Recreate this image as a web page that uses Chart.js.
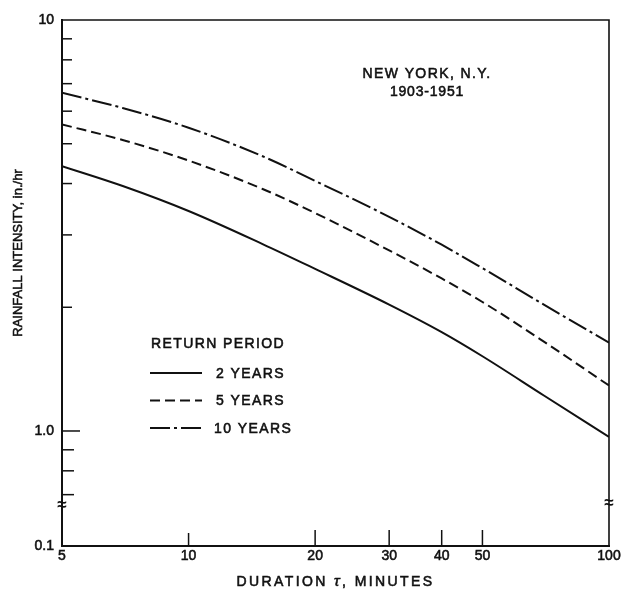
<!DOCTYPE html>
<html>
<head>
<meta charset="utf-8">
<script src="https://cdn.jsdelivr.net/npm/chart.js@4.4.1/dist/chart.umd.min.js"></script>
<style>
  html, body { margin: 0; padding: 0; background: #fff; overflow: hidden; }
  #wrap { width: 623px; height: 591px; position: relative; }
  canvas { display: block; }
</style>
</head>
<body>
<div id="wrap"><canvas id="idfChart"></canvas></div>
<script>
// duration (minutes) and rainfall intensity (in./hr) per return period
const durations = [5, 7, 10, 15, 20, 30, 40, 50, 70, 100];
const twoYear  = [4.41, 3.94, 3.43, 2.85, 2.48, 2.03, 1.74, 1.52, 1.22, 0.967];
const fiveYear = [5.57, 5.10, 4.55, 3.88, 3.39, 2.75, 2.35, 2.06, 1.65, 1.29];
const tenYear  = [6.65, 6.10, 5.47, 4.66, 4.06, 3.32, 2.84, 2.49, 2.03, 1.64];
const seriesLabels = ['2 YEARS', '5 YEARS', '10 YEARS'];

// axis ticks
const xTicks = [5, 10, 20, 30, 40, 50, 100];
const yMinorTicks = [0.7, 0.8, 0.9, 2, 3, 4, 5, 6, 7, 8, 9];
// the y axis is broken below 0.7: the bottom edge stands for 0.1
const yBreakFloor = 0.525;
const yTickLabels = { '0.525': '0.1', '1': '1.0', '10': '10' };

const FONT = '"Liberation Sans", Arial, Helvetica, sans-serif';
const INK = '#111';
const TEXT_STROKE = 0.55;

function pts(ys) {
    return durations.map((d, i) => ({ x: d, y: ys[i] }));
}

// filled text with a hairline stroke so it reads a little heavier
function heavyText(ctx, text, x, y) {
    ctx.fillText(text, x, y);
    ctx.lineWidth = TEXT_STROKE;
    ctx.strokeText(text, x, y);
}

// draws text runs (each with its own font) centred on x
function drawRuns(ctx, runs, cx, cy, spacing) {
    ctx.letterSpacing = spacing + 'px';
    let total = 0;
    runs.forEach(r => { ctx.font = r.font; r.w = ctx.measureText(r.text).width; total += r.w; });
    let x = cx - total / 2;
    ctx.textAlign = 'left';
    runs.forEach(r => { ctx.font = r.font; heavyText(ctx, r.text, x, cy); x += r.w; });
    ctx.letterSpacing = '0px';
}

// frame, inward ticks, axis breaks, axis titles, legend and station note
const decorations = {
    id: 'decorations',
    afterDatasetsDraw(chart) {
        const ctx = chart.ctx;
        const a = chart.chartArea;
        const xs = chart.scales.x;
        const ys = chart.scales.y;
        ctx.save();
        ctx.strokeStyle = INK;
        ctx.fillStyle = INK;
        ctx.setLineDash([]);

        // top and right edges
        ctx.lineWidth = 1.6;
        ctx.beginPath();
        ctx.moveTo(a.left, a.top);
        ctx.lineTo(a.right, a.top);
        ctx.lineTo(a.right, a.bottom);
        ctx.stroke();

        // inward ticks
        ctx.lineWidth = 1.5;
        xTicks.slice(1, -1).forEach(v => {
            const px = xs.getPixelForValue(v);
            const len = v === 10 ? 13 : 16;
            ctx.beginPath();
            ctx.moveTo(px, a.bottom);
            ctx.lineTo(px, a.bottom - len);
            ctx.stroke();
        });
        yMinorTicks.concat([1]).forEach(v => {
            const py = ys.getPixelForValue(v);
            const len = v === 1 ? 18 : (v < 1 ? 12 : 10);
            ctx.beginPath();
            ctx.moveTo(a.left, py);
            ctx.lineTo(a.left + len, py);
            ctx.stroke();
        });

        // axis break marks
        ctx.font = 'bold 17px ' + FONT;
        ctx.textAlign = 'center';
        ctx.textBaseline = 'middle';
        ctx.fillText('\u2248', a.left, 505);
        ctx.fillText('\u2248', a.right, 503);

        // axis titles
        const f14 = '14px ' + FONT;
        drawRuns(ctx, [
            { text: 'DURATION ', font: f14 },
            { text: '\u03C4', font: 'italic 15px ' + FONT },
            { text: ', MINUTES', font: f14 }
        ], (a.left + a.right) / 2, 582, 2.4);

        ctx.save();
        ctx.translate(18, 253);
        ctx.rotate(-Math.PI / 2);
        ctx.font = '13px ' + FONT;
        ctx.textAlign = 'center';
        heavyText(ctx, 'RAINFALL INTENSITY, in./hr', 0, 0);
        ctx.restore();

        // station note
        drawRuns(ctx, [{ text: 'NEW YORK, N.Y.', font: f14 }], 427, 74, 1.4);
        drawRuns(ctx, [{ text: '1903-1951', font: f14 }], 427, 92, 0.8);

        // legend
        ctx.font = f14;
        ctx.textAlign = 'left';
        ctx.letterSpacing = '1.4px';
        heavyText(ctx, 'RETURN PERIOD', 151, 344);
        chart.data.datasets.forEach((ds, i) => {
            const y = 373 + i * 27.5;
            ctx.lineWidth = ds.borderWidth;
            ctx.setLineDash(ds.borderDash || []);
            ctx.beginPath();
            ctx.moveTo(150, y);
            ctx.lineTo(202, y);
            ctx.stroke();
            ctx.setLineDash([]);
            heavyText(ctx, ds.label, i === 2 ? 214 : 216, y + 1);
        });
        ctx.letterSpacing = '0px';
        ctx.restore();
    }
};

const ctx = document.getElementById('idfChart').getContext('2d');
new Chart(ctx, {
    type: 'line',
    data: {
        datasets: [
            { label: seriesLabels[0], data: pts(twoYear), borderDash: [] },
            { label: seriesLabels[1], data: pts(fiveYear), borderDash: [10, 5] },
            { label: seriesLabels[2], data: pts(tenYear), borderDash: [20, 4, 3, 4] }
        ].map(ds => Object.assign(ds, {
            borderColor: INK,
            borderWidth: 2,
            pointRadius: 0,
            fill: false,
            cubicInterpolationMode: 'monotone'
        }))
    },
    options: {
        responsive: true,
        maintainAspectRatio: false,
        animation: false,
        events: [],
        layout: { padding: { top: 20, right: 14, bottom: 0, left: 0 } },
        plugins: { legend: { display: false }, tooltip: { enabled: false } },
        scales: {
            x: {
                type: 'logarithmic',
                min: 5,
                max: 100,
                grid: { display: false, drawTicks: false },
                border: { display: true, color: INK, width: 2 },
                afterBuildTicks: s => { s.ticks = xTicks.map(v => ({ value: v })); },
                afterFit: s => { s.height = 45; },
                ticks: {
                    color: INK,
                    padding: 2,
                    maxRotation: 0,
                    autoSkip: false,
                    textStrokeColor: INK,
                    textStrokeWidth: TEXT_STROKE,
                    font: { family: FONT, size: 14 },
                    callback: v => String(v)
                }
            },
            y: {
                type: 'logarithmic',
                min: yBreakFloor,
                max: 10,
                grid: { display: false, drawTicks: false },
                border: { display: true, color: INK, width: 2 },
                afterBuildTicks: s => {
                    s.ticks = Object.keys(yTickLabels).map(k => ({ value: Number(k) }));
                },
                afterFit: s => { s.width = 62; },
                ticks: {
                    color: INK,
                    padding: 8,
                    autoSkip: false,
                    textStrokeColor: INK,
                    textStrokeWidth: TEXT_STROKE,
                    font: { family: FONT, size: 14 },
                    callback: v => yTickLabels[String(v)] || ''
                }
            }
        }
    },
    plugins: [decorations]
});
</script>
</body>
</html>
